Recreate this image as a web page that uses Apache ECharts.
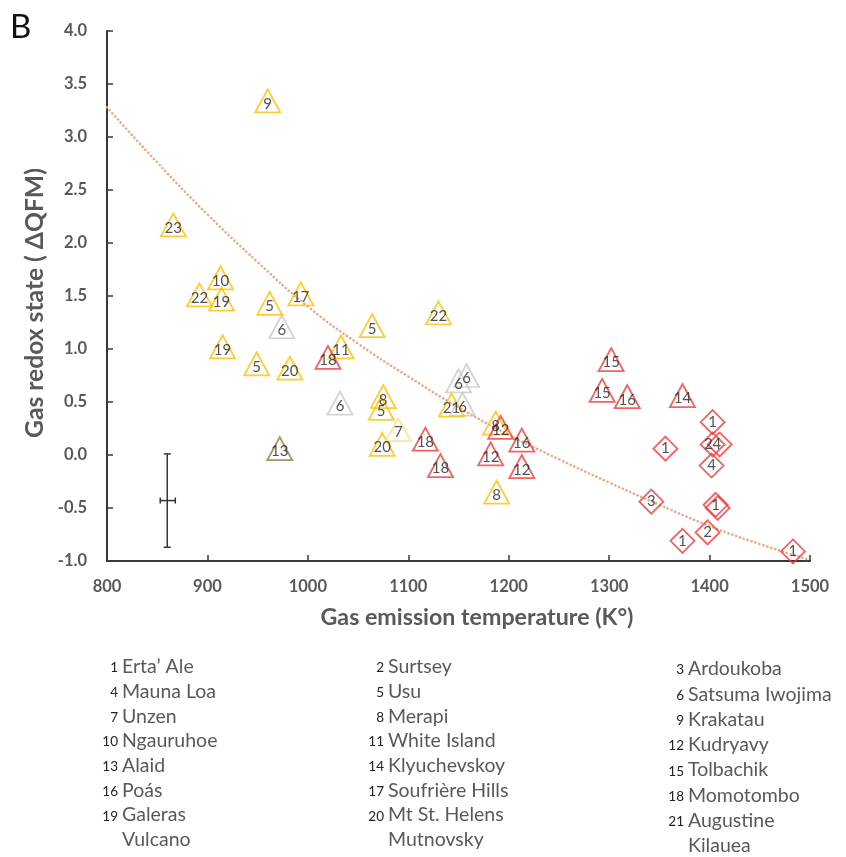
<!DOCTYPE html>
<html>
<head>
<meta charset="utf-8">
<script src="https://cdn.jsdelivr.net/npm/echarts@6/dist/echarts.min.js"></script>
<style>html,body{margin:0;padding:0;background:#fff}#c{width:846px;height:857px}</style>
</head>
<body>
<div id="c"></div>
<script>
// ---- data: [temperature K, ΔQFM, label] ----
const yellowTri = [
  [960, 3.34, '9'], [866, 2.17, '23'], [913, 1.67, '10'], [892, 1.51, '22'],
  [914, 1.47, '19'], [962, 1.43, '5'], [993, 1.52, '17'], [915, 1.02, '19'],
  [949, 0.86, '5'], [982, 0.82, '20'], [1033, 1.02, '11'], [1064, 1.22, '5'],
  [1130, 1.34, '22'], [1075, 0.55, '8'], [1073, 0.44, '5'], [1074, 0.10, '20'],
  [1143, 0.47, '21'], [1187, 0.30, '8'], [1188, -0.35, '8']
];
const paleYellowTri = [[1090, 0.24, '7']];
const grayTri = [
  [974, 1.21, '6'], [1032, 0.49, '6'], [1150, 0.70, '6'], [1158, 0.75, '6'], [1154, 0.48, '6']
];
const oliveTri = [[972, 0.06, '13']];
const redTri = [
  [1020, 0.92, '18'], [1117, 0.15, '18'], [1132, -0.10, '18'], [1192, 0.26, '12'],
  [1182, 0.01, '12'], [1213, 0.14, '16'], [1213, -0.11, '12'], [1302, 0.90, '15'],
  [1293, 0.61, '15'], [1318, 0.55, '16'], [1373, 0.56, '14']
];
const redDiamond = [
  [1403, 0.31, '1'], [1410, 0.10, ''], [1403, 0.10, '24'], [1356, 0.06, '1'],
  [1402, -0.10, '4'], [1342, -0.44, '3'], [1408, -0.50, ''], [1406, -0.47, '1'],
  [1398, -0.73, '2'], [1373, -0.81, '1'], [1483, -0.91, '1']
];
// dotted trend line
const trendLine = [
  [800, 3.28], [850, 2.76], [900, 2.27], [950, 1.82], [1000, 1.40], [1050, 1.05],
  [1100, 0.74], [1150, 0.45], [1200, 0.19], [1250, -0.04], [1300, -0.26],
  [1350, -0.47], [1400, -0.67], [1450, -0.84], [1500, -0.99]
];
// error bar: [x, y, yHigh, yLow, xLow, xHigh]
const errorBar = [[860, -0.43, 0.01, -0.87, 853, 868]];
// legend
const legendNums = ['1','2','3','4','5','6','7','8','9','10','11','12','13','14','15','16','17','18','19','20','21','','',''];
const legendNames = ["Erta’ Ale","Surtsey","Ardoukoba","Mauna Loa","Usu","Satsuma Iwojima","Unzen","Merapi","Krakatau",
  "Ngauruhoe","White Island","Kudryavy","Alaid","Klyuchevskoy","Tolbachik","Poás","Soufrière Hills","Momotombo",
  "Galeras","Mt St. Helens","Augustine","Vulcano","Mutnovsky","Kilauea"];
const xTicks = {min: 800, max: 1500, interval: 100};
const yTicks = {min: -1, max: 4, interval: 0.5};
const xTitle = 'Gas emission temperature (K°)';
const yTitle = 'Gas redox state ( ΔQFM)';

const FONT = 'Lato, "Open Sans", sans-serif';
const ctx = document.createElement('canvas').getContext('2d');
function fitSize(text, weight, target) {
  ctx.font = weight + ' 20px ' + FONT;
  return 20 * target / ctx.measureText(text).width;
}
const xTitleSize = fitSize(xTitle, 'bold', 313);
const yTitleSize = fitSize(yTitle, 'bold', 270);
const legendSize = Math.min(19.5, fitSize('Satsuma Iwojima', 'normal', 153));

const chart = echarts.init(document.getElementById('c'));

function markerSeries(data, symbol, color, size, offY) {
  return {
    type: 'scatter', data: data, symbol: symbol, symbolSize: size,
    itemStyle: {color: 'rgba(255,255,255,0)', borderColor: color, borderWidth: 1.8},
    label: {show: true, position: 'inside', offset: [0, offY],
      formatter: p => p.value[2], color: '#262626', fontSize: 15, fontFamily: FONT},
    emphasis: {disabled: true}, z: 3
  };
}

const graphics = [
  {type: 'text', left: 10, top: 11, style: {text: 'B', fontSize: 33, fontFamily: FONT, fill: '#111'}},
  {type: 'text', x: 477, y: 618, style: {text: xTitle, fontSize: xTitleSize, fontWeight: 'bold',
    fontFamily: FONT, fill: '#595959', align: 'center', verticalAlign: 'middle'}},
  {type: 'text', x: 35, y: 303, rotation: Math.PI / 2, style: {text: yTitle, fontSize: yTitleSize, fontWeight: 'bold',
    fontFamily: FONT, fill: '#595959', align: 'center', verticalAlign: 'middle'}}
];
const colNumX = [118, 384, 684];
const colNameX = [122, 388, 688];
const rowY0 = [667, 667, 669];
const rowStep = [24.7, 24.7, 25.3];
legendNames.forEach((name, i) => {
  const col = i % 3, row = Math.floor(i / 3);
  const y = rowY0[col] + row * rowStep[col];
  if (legendNums[i]) {
    graphics.push({type: 'text', x: colNumX[col], y: y + 1,
      style: {text: legendNums[i], fontSize: 13.5, fontFamily: FONT, fill: '#222', align: 'right', verticalAlign: 'middle'}});
  }
  graphics.push({type: 'text', x: colNameX[col], y: y,
    style: {text: name, fontSize: legendSize, fontFamily: FONT, fill: '#595959', align: 'left', verticalAlign: 'middle'}});
});

chart.setOption({
  animation: false,
  backgroundColor: '#fff',
  grid: {left: 107, right: 36, top: 31, bottom: 296},
  xAxis: {
    type: 'value', min: xTicks.min, max: xTicks.max, interval: xTicks.interval,
    axisLine: {onZero: false, lineStyle: {color: '#3a3a3a', width: 2}},
    axisTick: {inside: true, length: 6, lineStyle: {color: '#3a3a3a', width: 1.5}},
    axisLabel: {fontSize: 16.5, fontWeight: 'bold', color: '#595959', fontFamily: FONT, margin: 17,
      formatter: v => String(v)},
    splitLine: {show: false}
  },
  yAxis: {
    type: 'value', min: yTicks.min, max: yTicks.max, interval: yTicks.interval,
    axisLine: {show: true, onZero: false, lineStyle: {color: '#3a3a3a', width: 2}},
    axisTick: {show: true, inside: true, length: 6, lineStyle: {color: '#3a3a3a', width: 1.5}},
    axisLabel: {fontSize: 16.5, fontWeight: 'bold', color: '#595959', fontFamily: FONT, margin: 20,
      formatter: v => v.toFixed(1)},
    splitLine: {show: false}
  },
  graphic: graphics,
  series: [
    {type: 'line', data: trendLine, smooth: true, symbol: 'none', silent: true, z: 2,
      lineStyle: {color: '#EDA885', width: 2.6, type: [0.1, 4], cap: 'round'}},
    {type: 'custom', data: errorBar, z: 2, silent: true,
      renderItem: (params, api) => {
        const c = api.coord([api.value(0), api.value(1)]);
        const hi = api.coord([api.value(0), api.value(2)]);
        const lo = api.coord([api.value(0), api.value(3)]);
        const l = api.coord([api.value(4), api.value(1)]);
        const r = api.coord([api.value(5), api.value(1)]);
        const st = {stroke: '#333', lineWidth: 1.5};
        return {type: 'group', children: [
          {type: 'line', shape: {x1: hi[0], y1: hi[1], x2: lo[0], y2: lo[1]}, style: st},
          {type: 'line', shape: {x1: hi[0]-3.5, y1: hi[1], x2: hi[0]+3.5, y2: hi[1]}, style: st},
          {type: 'line', shape: {x1: lo[0]-3.5, y1: lo[1], x2: lo[0]+3.5, y2: lo[1]}, style: st},
          {type: 'line', shape: {x1: l[0], y1: c[1], x2: r[0], y2: c[1]}, style: st},
          {type: 'line', shape: {x1: l[0], y1: c[1]-3, x2: l[0], y2: c[1]+3}, style: st},
          {type: 'line', shape: {x1: r[0], y1: c[1]-3, x2: r[0], y2: c[1]+3}, style: st}
        ]};
      }},
    markerSeries(grayTri, 'triangle', '#C8C8C8', [25, 23], 3),
    markerSeries(yellowTri, 'triangle', '#FFC000', [25, 23], 3),
    markerSeries(paleYellowTri, 'triangle', '#FFDD80', [25, 23], 3),
    markerSeries(oliveTri, 'triangle', '#8C7B4A', [25, 23], 3),
    markerSeries(redTri, 'triangle', '#F23B3B', [25, 23], 3),
    markerSeries(redDiamond, 'diamond', '#F23B3B', [24, 24], 0)
  ]
});
</script>
</body>
</html>
